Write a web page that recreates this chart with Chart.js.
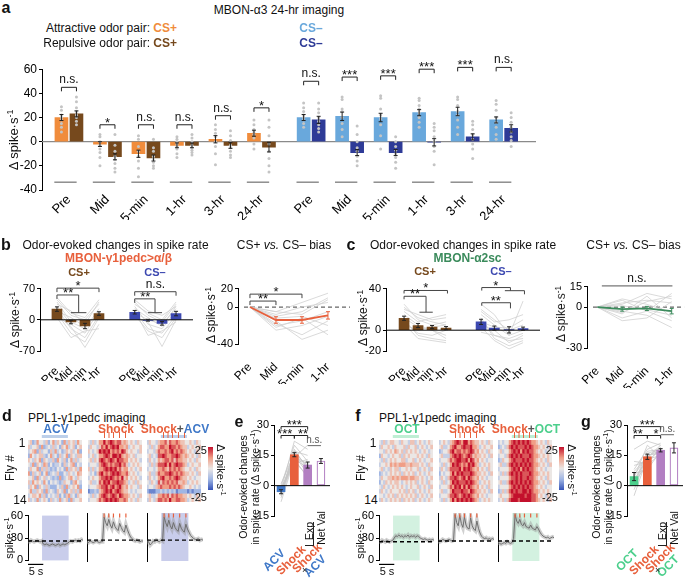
<!DOCTYPE html>
<html>
<head>
<meta charset="utf-8">
<title>MBON / PPL1 imaging</title>
<script src="https://cdn.jsdelivr.net/npm/chart.js@4.4.1/dist/chart.umd.min.js"></script>
<style>
  body { margin: 0; background: #fff; }
  #fig { position: relative; width: 690px; height: 578px; overflow: hidden; font-family: "Liberation Sans", Arial, sans-serif; }
  #fig canvas { position: absolute; }
  .t { position: absolute; white-space: nowrap; line-height: 1; color: #111; }
  .sup { font-size: 0.68em; vertical-align: 0.5em; }
  .ln { position: absolute; background: #222; }
</style>
</head>
<body>
<div id="fig"></div>
<script>
// ---------- panel a: MBON-a3 24-hr imaging ----------
const timepoints = ['Pre', 'Mid', '5-min', '1-hr', '3-hr', '24-hr'];
const attractCSplus = [20, -2, -10, -3, 2, 7];
const repulseCSplus = [23, -12.5, -13.5, -3, -3, -4.5];
const attractCSminus = [20, 21, 20, 24, 25, 18];
const repulseCSminus = [18, -9, -9, -0.5, 4, 11];
const attractCSplusSem = [2.5, 2, 3, 2, 3, 2.5];
const repulseCSplusSem = [2.5, 2.5, 2.5, 2, 2.5, 4];
const attractCSminusSem = [2.5, 3.5, 3.5, 2.5, 3.5, 2.5];
const repulseCSminusSem = [3, 2.5, 2.5, 3, 2.5, 3];
const attractCSplusFlies = [
  [29, 26, 22, 20, 18, 15, 12, 8], [6, 4, 0, -3, -6, -9, -13, -20], [5, 2, -4, -8, -12, -16, -22, -29],
  [4, 2, 0, -2, -4, -6, -10, -13], [14, 10, 7, 4, 0, -4, -10, -19], [18, 14, 10, 8, 6, 3, -2, -6],
];
const repulseCSplusFlies = [
  [37, 33, 28, 25, 22, 20, 17, 14], [6, -3, -8, -12, -15, -18, -22, -25], [2, -5, -8, -12, -14, -17, -20, -22],
  [6, 3, 0, -3, -5, -7, -9, -11], [9, 5, 1, -3, -5, -8, -11, -13], [18, 12, 5, -2, -8, -14, -20, -25],
];
const attractCSminusFlies = [
  [32, 28, 25, 22, 20, 18, 15, 12], [37, 35, 27, 25, 20, 15, 10, 4], [38, 36, 27, 22, 19, 14, 5, -6],
  [36, 34, 30, 27, 24, 20, 16, 12], [37, 35, 30, 25, 22, 18, 12, 6], [34, 31, 26, 20, 16, 12, 6, 2],
];
const repulseCSminusFlies = [
  [32, 27, 24, 20, 17, 14, 11, 8], [13, 6, 0, -5, -8, -12, -16, -20], [4, 0, -4, -7, -10, -13, -17, -22],
  [15, 12, 9, 4, 0, -4, -8, -19], [17, 14, 10, 6, 2, -2, -6, -14], [24, 20, 16, 12, 8, 4, 1, -4],
];
const sigCSplus = ['n.s.', '*', 'n.s.', 'n.s.', 'n.s.', '*'];
const sigCSminus = ['n.s.', '***', '***', '***', '***', 'n.s.'];

// ---------- panel b: MBON-g1pedc>a/b ----------
const stages = ['Pre', 'Mid', '5-min', '1-hr'];
const g1pedcCSplus = [24, -5, -14, 14];
const g1pedcCSplusSem = [5, 4, 6, 4];
const g1pedcCSminus = [17, -1, -8, 14];
const g1pedcCSminusSem = [4, 2, 4, 5];
const g1pedcCSplusFlies = [
  [45, 10, 0, 35], [40, -5, -20, 25], [35, 20, -10, 40], [30, -10, -30, 20], [25, -20, -40, 10],
  [20, 5, -15, 15], [15, -30, -50, 5], [10, -15, -62, -10], [50, 15, 5, 45], [5, -40, -25, -20],
];
const g1pedcCSminusFlies = [
  [40, 10, -5, 35], [30, -10, -20, 20], [25, 5, -15, 30], [20, -20, -30, 10], [15, 0, -10, 25],
  [10, -25, -40, 5], [5, -5, -60, 0], [35, 15, 0, 40], [20, -35, -25, -5], [45, 20, 10, 30],
];
const g1pedcBias = [0, -14, -14, -9];
const g1pedcBiasSem = [0, 3.5, 3.5, 4];
const g1pedcBiasFlies = [
  [0, -5, 5, 15], [0, -10, -5, 10], [0, -20, -15, -5], [0, -15, -35, -25], [0, -25, -20, -10],
  [0, -8, 0, 5], [0, -18, -30, -15], [0, -12, -10, -20], [0, -5, -8, 8], [0, -22, -12, -30],
];

// ---------- panel c: MBON-a2sc ----------
const a2scCSplus = [11.5, 4.5, 3, 2];
const a2scCSplusSem = [2, 2, 1.5, 1.5];
const a2scCSminus = [8, 2, 0.3, 1.5];
const a2scCSminusSem = [2.5, 2, 3, 1.5];
const a2scCSplusFlies = [
  [20, 15, 10, 12], [15, 5, 0, -5], [25, 10, 5, 8], [10, -5, -8, -10], [5, 0, 3, 5],
  [18, 8, 12, 15], [8, -3, -5, 0], [12, 3, 0, -8], [22, 12, 8, 5], [6, -8, -10, -12],
];
const a2scCSminusFlies = [
  [15, 5, -5, 0], [10, -5, -10, -8], [20, 10, 0, 5], [5, 0, -12, -5], [12, -8, -15, -10],
  [8, 3, 2, 10], [25, 15, -5, 28], [3, -10, -18, -12], [18, 8, 10, 15], [-2, -5, -8, -3],
];
const a2scBias = [0, -1.5, -1, -3];
const a2scBiasSem = [0, 1.5, 1.5, 2];
const a2scBiasFlies = [
  [0, 5, -3, 10], [0, -5, 8, -8], [0, 3, 5, 3], [0, -8, -3, -10], [0, 2, 10, 6],
  [0, -3, -6, -15], [0, 6, 2, -4], [0, -10, -8, 4], [0, 1, -2, -6], [0, -4, 4, 8],
];

// ---------- panels d-g: PPL1-g1pedc imaging ----------
const acvBars = [-3, 15.3, 10.2, 12.2];
const acvSem = [1, 1, 1.5, 1.2];
const octBars = [4.5, 14.3, 17.5, 18.7];
const octSem = [2, 1.3, 0.8, 2.5];
// per fly: odor, shock, shock+odor
const acvFlies = [
  [-2, 22, 18], [0, 20, 12], [-5, 18, 8], [-3, 17, 15], [1, 16, 10], [-4, 15, 6], [-6, 14, 11],
  [-2, 14, 20], [-8, 13, 9], [-3, 12, 5], [-1, 11, 13], [-5, 16, 7], [-2, 13, 4], [-4, 17, 9],
];
const octFlies = [
  [18, 22, 20], [10, 12, 18], [5, 15, 17], [2, 10, 16], [-5, 14, 19], [8, 18, 21], [3, 13, 15],
  [0, 16, 18], [6, 8, 17], [4, 20, 14], [12, 11, 19], [-2, 15, 16], [7, 14, 20], [1, 17, 18],
];
// mean traces, spike/s, one sample every 0.5 s from 0 to 18 s
const traceAcv = [26, 25, 27, 26, 25, 26, 27, 26, 25, 26, 22, 21, 22, 21, 20, 21, 22, 21, 20, 21, 22, 20, 21, 22, 21, 22, 23, 25, 26, 25, 26, 27, 26, 27, 26, 28, 27];
const traceShockD = [24, 23, 25, 24, 23, 24, 25, 24, 23, 24, 24, 55, 48, 44, 52, 45, 41, 49, 43, 40, 38, 47, 42, 38, 36, 45, 39, 34, 30, 28, 26, 25, 26, 25, 24, 25, 25];
const traceShockAcv = [26, 24, 20, 22, 25, 24, 26, 25, 24, 26, 25, 55, 48, 43, 51, 44, 40, 48, 42, 39, 37, 47, 41, 38, 36, 46, 40, 36, 32, 30, 28, 27, 27, 28, 26, 27, 26];
const traceOct = [26, 25, 27, 26, 25, 27, 26, 25, 26, 27, 30, 33, 32, 34, 32, 33, 31, 33, 32, 34, 31, 33, 32, 33, 31, 33, 32, 30, 29, 28, 29, 28, 27, 28, 27, 28, 27];
const traceShockF = [26, 24, 25, 27, 26, 25, 26, 27, 26, 25, 26, 58, 48, 44, 57, 47, 42, 55, 45, 41, 40, 54, 44, 40, 38, 50, 41, 35, 31, 29, 28, 29, 27, 28, 27, 28, 27];
const traceShockOct = [24, 22, 21, 22, 23, 22, 24, 23, 22, 23, 28, 58, 50, 47, 52, 46, 44, 48, 43, 42, 41, 45, 41, 40, 39, 43, 40, 36, 33, 31, 30, 29, 30, 28, 29, 30, 29];
const shockTimes = [5.5, 7, 8.5, 10.5, 12.5];
// heat maps: 14 flies x 24 bins, digit 1..9 = -25..+25 spike/s
const heatAcv = [
  '563475546357465374656475', '645563734546453657456356', '456736455364745346564573', '375456643574536457365466',
  '654657365446375463574645', '547365476353445364567354', '465573646434354537465647', '736456357345463354654576',
  '556374564543437345675465', '647565475354543465536754', '465736546433354637456573', '574465637454365473564647',
  '456657463545463536745365', '645474565364547456374556',
];
const heatShockD = [
  '546457797898788676565465', '465546879789897767456556', '654569898978787986565546', '456457789879989767656455',
  '564658987898798877565654', '455547898787889786456565', '646457789898978677565456', '545368978789898778656545',
  '456557889898787967565654', '564458798978898876456465', '455567889789789767565546', '233436789897898766545455',
  '546457898789879877656546', '455568789898987787565465',
];
const heatShockAcv = [
  '465546778687787665565465', '546457887798878766456556', '455468778789787876565465', '564548898778898767656546',
  '465457678878687766565465', '546468889797898876456556', '455457787687878765565465', '564468778898787876656546',
  '465457897787898766565455', '546548687878786676456565', '455467877787878765565454', '322233434343423333232333',
  '564457787868787766565465', '465468878797788776456556',
];
const heatOct = [
  '546456655465546645654565', '465565465556465564565456', '554656576564656565456545', '365545655646565556565465',
  '546456565566455645654556', '455657676777667666565465', '564546566455656556456546', '345456565646565645654565',
  '465566767677767766565456', '354656566545656564565465', '546545656565456556456546', '465456555656465645654565',
  '554565646565656564565456', '465456565646565645654565',
];
const heatShockF = [
  '456546789879978766565465', '564457897789889776456556', '345568978878789867565465', '564447898987898676656546',
  '455568789988979867565455', '546457989878798976456565', '465468888979898767565465', '354557979898889876656546',
  '465468898789798767565455', '546457989888989876456565', '455568798979798767565465', '564457988898879876656546',
  '455568898789898767565455', '546457979898989876456565',
];
const heatShockOct = [
  '454557898989898776565465', '345468989888989877656546', '564557898979898876565455', '455468989898889877656565',
  '346557898889898876565465', '564468989898989877656546', '455557898979898876565455', '546468989898889877656565',
  '455557889898898876565465', '564468989898989877656546', '455557898989898876565455', '346468989889989877656565',
  '565557899999899887565465', '456468999899999887656546',
];

// ---------- style ----------
const ORANGE = '#f08c3c', BROWN = '#76491d', LBLUE = '#69a8dc', DBLUE = '#2e3b97';
const RED = '#e8603c', BLUE2 = '#3c48b0', GREEN = '#3b8b5c', ACVC = '#3f78c8', OCTC = '#4ccf8c', PURPLE = '#b27fc2';
const SUP = '<span class="sup">-1</span>';
const TSTEP = 0.5, CELL_T = 0.75, ODOR_WIN = [4.6, 13.3];

Chart.defaults.font.family = '"Liberation Sans", Arial, sans-serif';
Chart.defaults.color = '#000';
Chart.defaults.animation = false;
Chart.defaults.responsive = false;
Chart.defaults.events = [];
Chart.defaults.plugins.legend.display = false;
Chart.defaults.plugins.tooltip.enabled = false;
Chart.defaults.elements.point.radius = 0;

const fig = document.getElementById('fig');

function txt(x, y, s, o = {}) {
  const d = document.createElement('div');
  d.className = 't';
  d.innerHTML = s;
  const ax = o.a === 'l' ? '0' : o.a === 'r' ? '-100%' : '-50%';
  d.style.left = x + 'px';
  d.style.top = y + 'px';
  d.style.fontSize = (o.size || 12) + 'px';
  if (o.color) d.style.color = o.color;
  if (o.bold) d.style.fontWeight = 'bold';
  d.style.transform = `translate(${ax},-50%)` + (o.rot ? ` rotate(${o.rot}deg)` : '');
  fig.appendChild(d);
}
function box(x, y, w, h, bg) {
  const d = document.createElement('div');
  d.className = 'ln';
  d.style.cssText = `left:${x}px;top:${y}px;width:${w}px;height:${h}px;` + (bg ? `background:${bg};` : '');
  fig.appendChild(d);
}

let plugSeq = 0;
function draw(ch, fn) {
  if (!fn) return;
  const ctx = ch.ctx;
  ctx.save();
  fn({ ctx, X: v => ch.scales.x.getPixelForValue(v), Y: v => ch.scales.y.getPixelForValue(v), area: ch.chartArea });
  ctx.restore();
}
function mk(left, top, w, h, cfg, pad, before, after) {
  const c = document.createElement('canvas');
  c.width = w;
  c.height = h;
  c.style.left = left + 'px';
  c.style.top = top + 'px';
  fig.appendChild(c);
  cfg.options.layout = { padding: Object.assign({ top: 0, right: 0, bottom: 0, left: 0 }, pad), autoPadding: false };
  cfg.options.maintainAspectRatio = false;
  cfg.options.devicePixelRatio = 1;
  cfg.plugins = [{ id: 'deco' + (plugSeq++), beforeDatasetsDraw: ch => draw(ch, before), afterDatasetsDraw: ch => draw(ch, after) }];
  const chart = new Chart(c, cfg);
  chart.$left = left;
  chart.$top = top;
  return chart;
}
function yAx(min, max, ticks, w, o = {}) {
  const tl = o.tl === undefined ? 3 : o.tl;
  return {
    type: 'linear', min, max,
    afterFit: s => { s.width = w; },
    afterBuildTicks: s => { s.ticks = ticks.map(v => ({ value: v })); },
    border: { display: true, color: '#000', width: 1 },
    grid: { drawOnChartArea: false, drawTicks: tl > 0, tickLength: tl, color: '#000' },
    ticks: { display: o.labels !== false, color: '#000', font: { size: o.fs || 12 }, padding: 2 },
  };
}
function xAx(min, max, pos, labels, o = {}) {
  return {
    type: 'linear', min, max, offset: false, display: !!labels,
    afterFit: s => { s.height = o.h || 30; },
    afterBuildTicks: s => { s.ticks = pos.map(v => ({ value: v })); },
    border: { display: false }, grid: { display: false },
    ticks: {
      autoSkip: false, minRotation: 45, maxRotation: 45, padding: o.pad === undefined ? 2 : o.pad,
      color: '#000', font: { size: o.fs || 12 }, callback: (v, i) => (labels ? labels[i] : ''),
    },
  };
}
function seg(ctx, pts, color = '#000', w = 1, dash = []) {
  ctx.beginPath();
  ctx.strokeStyle = color;
  ctx.lineWidth = w;
  ctx.setLineDash(dash);
  pts.forEach(([x, y], i) => (i ? ctx.lineTo(x, y) : ctx.moveTo(x, y)));
  ctx.stroke();
}
function errBars(g, xs, ys, es, color = '#222', cap = 2) {
  xs.forEach((x, i) => {
    if (!es[i]) return;
    const px = g.X(x), y1 = g.Y(ys[i] - es[i]), y2 = g.Y(ys[i] + es[i]);
    seg(g.ctx, [[px, y1], [px, y2]], color, 1);
    seg(g.ctx, [[px - cap, y1], [px + cap, y1]], color, 1);
    seg(g.ctx, [[px - cap, y2], [px + cap, y2]], color, 1);
  });
}
function bracket(g, x1, x2, y, drop = 4, color = '#222') {
  const py = g.Y(y);
  seg(g.ctx, [[g.X(x1), py + drop], [g.X(x1), py], [g.X(x2), py], [g.X(x2), py + drop]], color, 1);
}
function note(ch, x, y, s, o = {}) {
  txt(ch.$left + ch.scales.x.getPixelForValue(x) + (o.dx || 0), ch.$top + ch.scales.y.getPixelForValue(y) + (o.dy || 0), s, o);
}
function sig(ch, x, y, s, o = {}) {
  const star = s.indexOf('*') >= 0;
  note(ch, x, y, s, Object.assign({ dy: star ? -3 : -8, size: star ? 13 : 12 }, o));
}
function barSet(vals, pos, color, thick, off = 0) {
  return { data: vals.map((y, i) => ({ x: pos[i] + off, y })), backgroundColor: color, barThickness: thick, grouped: false, order: 1 };
}
function flyLine(vals, pos, color = '#d0d0d0') {
  return { type: 'line', data: vals.map((y, i) => ({ x: pos[i], y })), borderColor: color, borderWidth: 0.8, pointRadius: 0, order: 3, clip: false };
}
function meanLine(vals, pos, color) {
  return { type: 'line', data: vals.map((y, i) => ({ x: pos[i], y })), borderColor: color, borderWidth: 1.8, pointRadius: 0, order: 0, clip: false };
}

// ================= panel a =================
const aPlusPos = [0, 1, 2, 3, 4, 5];
const aMinusPos = [6.29, 7.29, 8.29, 9.29, 10.29, 11.29];
const aOff = 0.195;
const aSeries = [
  [attractCSplus, attractCSplusSem, attractCSplusFlies, aPlusPos, -aOff, ORANGE],
  [repulseCSplus, repulseCSplusSem, repulseCSplusFlies, aPlusPos, aOff, BROWN],
  [attractCSminus, attractCSminusSem, attractCSminusFlies, aMinusPos, -aOff, LBLUE],
  [repulseCSminus, repulseCSminusSem, repulseCSminusFlies, aMinusPos, aOff, DBLUE],
];
const aDots = [];
aSeries.forEach(([, , flies, pos, off]) => flies.forEach((vals, i) => vals.forEach(v => aDots.push({ x: pos[i] + off, y: v }))));
const plusH = [45, 14, 14, 14, 21.5, 28];
const minusH = [50, 53.5, 54.5, 60, 61.5, 61.5];

const chA = mk(0, 60, 545, 160, {
  type: 'bar',
  data: {
    datasets: [
      ...aSeries.map(([v, , , pos, off, c]) => Object.assign(barSet(v, pos, c, 13, off), { order: 2 })),
      { type: 'line', showLine: false, data: aDots, pointRadius: 1.5, pointBackgroundColor: '#c4c4c4', pointBorderWidth: 0, order: 1, clip: false },
    ],
  },
  options: { scales: { x: xAx(-0.70, 12.13, [...aPlusPos, ...aMinusPos], [...timepoints, ...timepoints], { h: 30, fs: 13, pad: -6 }), y: yAx(-40, 60, [-40, -20, 0, 20, 40, 60], 42) } },
}, { top: 9, right: 9 },
g => seg(g.ctx, [[g.area.left, g.Y(0)], [g.area.right, g.Y(0)]], '#8a8a8a', 1.2),
g => {
  aSeries.forEach(([v, e, , pos, off]) => errBars(g, pos.map(x => x + off), v, e, '#222', 2));
  [...aPlusPos, ...aMinusPos].forEach(x => seg(g.ctx, [[g.X(x - 0.38), g.Y(-33.5)], [g.X(x + 0.2), g.Y(-33.5)]], '#555', 1));
  aPlusPos.forEach((x, i) => bracket(g, x - aOff, x + aOff, plusH[i]));
  aMinusPos.forEach((x, i) => bracket(g, x - aOff, x + aOff, minusH[i]));
});
aPlusPos.forEach((x, i) => sig(chA, x, plusH[i], sigCSplus[i]));
aMinusPos.forEach((x, i) => sig(chA, x, minusH[i], sigCSminus[i]));

txt(6, 8, 'a', { size: 16, bold: true });
txt(279, 10, 'MBON-α3 24-hr imaging', { size: 12 });
txt(177, 28, `Attractive odor pair: <b style="color:${ORANGE}">CS+</b>`, { a: 'r', size: 12 });
txt(177, 43, `Repulsive odor pair: <b style="color:${BROWN}">CS+</b>`, { a: 'r', size: 12 });
txt(311, 28, 'CS–', { size: 12, bold: true, color: LBLUE });
txt(311, 43, 'CS–', { size: 12, bold: true, color: DBLUE });
txt(13, 140, `Δ spike·s${SUP}`, { size: 13, rot: -90 });

// ================= panel b =================
const bPos = [0, 1, 2, 3];
const bPosM = [5.55, 6.5, 7.5, 8.5];
const chB1 = mk(8, 280, 187, 101, {
  type: 'bar',
  data: {
    datasets: [
      barSet(g1pedcCSplus, bPos, BROWN, 10),
      barSet(g1pedcCSminus, bPosM, BLUE2, 10),
      ...g1pedcCSplusFlies.map(f => flyLine(f, bPos)),
      ...g1pedcCSminusFlies.map(f => flyLine(f, bPosM)),
    ],
  },
  options: { scales: { x: xAx(-1.21, 9.71, [...bPos, ...bPosM], [...stages, ...stages], { h: 30, pad: 5 }), y: yAx(-70, 70, [-70, 0, 70], 32, { fs: 11 }) } },
}, { top: 6, right: 2 }, null, g => {
  seg(g.ctx, [[g.area.left, g.Y(0)], [g.area.right, g.Y(0)]], '#000', 1);
  errBars(g, bPos, g1pedcCSplus, g1pedcCSplusSem);
  errBars(g, bPosM, g1pedcCSminus, g1pedcCSminusSem);
  bracket(g, 0, 3, 71, 4, '#444');
  seg(g.ctx, [[g.X(0), g.Y(55.7) + 4], [g.X(0), g.Y(55.7)], [g.X(1.55), g.Y(55.7)], [g.X(1.55), g.Y(16)]], '#444');
  seg(g.ctx, [[g.X(1), g.Y(16)], [g.X(2.1), g.Y(16)]], '#444');
  bracket(g, 5.55, 8.5, 63, 4, '#444');
  seg(g.ctx, [[g.X(5.55), g.Y(47) + 4], [g.X(5.55), g.Y(47)], [g.X(7), g.Y(47)], [g.X(7), g.Y(16)]], '#444');
  seg(g.ctx, [[g.X(6.5), g.Y(16)], [g.X(7.5), g.Y(16)]], '#444');
});
sig(chB1, 1.5, 71, '*');
sig(chB1, 0.8, 55.7, '**');
sig(chB1, 7.02, 63, 'n.s.');
sig(chB1, 6.3, 47, '**');

const chB2 = mk(208, 280, 142, 104, {
  type: 'line',
  data: { datasets: [...g1pedcBiasFlies.map(f => flyLine(f, bPos)), meanLine(g1pedcBias, bPos, RED)] },
  options: { scales: { x: xAx(-0.46, 3.77, bPos, stages, { h: 40, pad: 8 }), y: yAx(-40, 20, [-40, 0, 20], 30, { fs: 11 }) } },
}, { top: 6, right: 2 },
g => seg(g.ctx, [[g.area.left + 6, g.Y(0)], [g.area.right + 2, g.Y(0)]], '#666', 1.3, [4, 3]),
g => {
  errBars(g, bPos, g1pedcBias, g1pedcBiasSem, RED, 2);
  bracket(g, 0, 1, 6.5, 4, '#444');
  bracket(g, 0, 2, 14, 4, '#444');
});
sig(chB2, 0.5, 6.5, '**');
sig(chB2, 1, 14, '*');

txt(6, 245, 'b', { size: 16, bold: true });
txt(115.5, 245, 'Odor-evoked changes in spike rate', { size: 12 });
txt(118.5, 258.3, 'MBON-γ1pedc&gt;α/β', { size: 12, bold: true, color: RED });
txt(79, 271.7, 'CS+', { size: 11, bold: true, color: BROWN });
txt(155, 271.7, 'CS–', { size: 11, bold: true, color: BLUE2 });
txt(284, 245, 'CS+ <i>vs.</i> CS– bias', { size: 12 });
txt(15, 320, `Δ spike·s${SUP}`, { size: 12, rot: -90 });
txt(211, 315, `Δ spike·s${SUP}`, { size: 12, rot: -90 });

// ================= panel c =================
const cPosM = [5.5, 6.45, 7.5, 8.5];
const chC1 = mk(356, 280, 186, 101, {
  type: 'bar',
  data: {
    datasets: [
      barSet(a2scCSplus, bPos, BROWN, 10),
      barSet(a2scCSminus, cPosM, BLUE2, 10),
      ...a2scCSplusFlies.map(f => flyLine(f, bPos)),
      ...a2scCSminusFlies.map(f => flyLine(f, cPosM)),
    ],
  },
  options: { scales: { x: xAx(-1.29, 9.71, [...bPos, ...cPosM], [...stages, ...stages], { h: 30, pad: 5 }), y: yAx(-20, 40, [-20, 0, 40], 30, { fs: 11 }) } },
}, { top: 6, right: 2 }, null, g => {
  seg(g.ctx, [[g.area.left, g.Y(0)], [g.area.right, g.Y(0)]], '#000', 1);
  errBars(g, bPos, a2scCSplus, a2scCSplusSem);
  errBars(g, cPosM, a2scCSminus, a2scCSminusSem);
  bracket(g, 0, 3.1, 38.2, 3, '#444');
  seg(g.ctx, [[g.X(0), g.Y(32.6) + 3], [g.X(0), g.Y(32.6)], [g.X(1.57), g.Y(32.6)], [g.X(1.57), g.Y(17.3)]], '#444');
  seg(g.ctx, [[g.X(1.1), g.Y(17.3)], [g.X(2.05), g.Y(17.3)]], '#444');
  seg(g.ctx, [[g.X(5.55), g.Y(41) + 3], [g.X(5.55), g.Y(41)], [g.X(7.6), g.Y(41)], [g.X(7.6), g.Y(38)]], '#444');
  seg(g.ctx, [[g.X(7.2), g.Y(38)], [g.X(8.6), g.Y(38)], [g.X(8.6), g.Y(34.5)]], '#444');
  seg(g.ctx, [[g.X(5.55), g.Y(26.4) + 3], [g.X(5.55), g.Y(26.4)], [g.X(7.6), g.Y(26.4)], [g.X(7.6), g.Y(21)]], '#444');
});
sig(chC1, 1.55, 38.2, '*');
sig(chC1, 0.78, 32.6, '**');
sig(chC1, 6.55, 41, '*');
sig(chC1, 6.55, 26.4, '**');

const chC2 = mk(557, 278, 133, 110, {
  type: 'line',
  data: { datasets: [...a2scBiasFlies.map(f => flyLine(f, bPos)), meanLine(a2scBias, bPos, GREEN)] },
  options: { scales: { x: xAx(-0.42, 3.5, bPos, stages, { h: 40, pad: 8 }), y: yAx(-30, 15, [-30, 0, 15], 30, { fs: 11 }) } },
}, { top: 6, right: 1 },
g => seg(g.ctx, [[g.area.left + 6, g.Y(0)], [g.area.right, g.Y(0)]], '#666', 1.3, [4, 3]),
g => {
  errBars(g, bPos, a2scBias, a2scBiasSem, GREEN, 2);
  seg(g.ctx, [[g.X(0.18), g.Y(15.5)], [g.X(3.03), g.Y(15.5)]], '#555', 1);
});
sig(chC2, 1.6, 15.5, 'n.s.');

txt(351, 245, 'c', { size: 16, bold: true });
txt(463, 245, 'Odor-evoked changes in spike rate', { size: 12 });
txt(467.5, 258.3, 'MBON-α2sc', { size: 12, bold: true, color: GREEN });
txt(425, 271, 'CS+', { size: 11, bold: true, color: BROWN });
txt(501, 271, 'CS–', { size: 11, bold: true, color: BLUE2 });
txt(633.5, 245, 'CS+ <i>vs.</i> CS– bias', { size: 12 });
txt(363, 318, `Δ spike·s${SUP}`, { size: 12, rot: -90 });
txt(561, 314, `Δ spike·s${SUP}`, { size: 12, rot: -90 });

// ================= panels d / f: heat maps and traces =================
const HEAT_STOPS = [[0, [53, 83, 184]], [0.25, [160, 182, 228]], [0.5, [235, 231, 229]], [0.75, [240, 158, 134]], [1, [195, 16, 44]]];
function heat(v) {
  const t = Math.max(0, Math.min(1, (v + 25) / 50));
  for (let i = 1; i < HEAT_STOPS.length; i++) {
    const [t0, c0] = HEAT_STOPS[i - 1];
    const [t1, c1] = HEAT_STOPS[i];
    if (t <= t1) {
      const f = (t - t0) / (t1 - t0);
      return `rgb(${c0.map((c, k) => Math.round(c + (c1[k] - c) * f)).join(',')})`;
    }
  }
  return 'rgb(195,16,44)';
}
const level = ch => (Number(ch) - 5) * 6.25;

function heatChart(left, rows, o) {
  return mk(left, 430, 54, 72, {
    type: 'bar',
    data: {
      datasets: rows.map((row, r) => ({
        data: row.split('').map((ch, c) => ({ x: (c + 0.5) * CELL_T, y: [r, r + 1] })),
        backgroundColor: row.split('').map(ch => heat(level(ch))),
        barThickness: 2.6, grouped: false, borderWidth: 0,
      })),
    },
    options: {
      scales: {
        x: { type: 'linear', min: 0, max: 18, display: false, offset: false },
        y: { type: 'linear', min: 0, max: 14, reverse: true, display: false },
      },
    },
  }, { top: 10 }, null, g => {
    if (o.odor) {
      g.ctx.fillStyle = o.odor;
      g.ctx.fillRect(g.X(ODOR_WIN[0]), g.area.top - 5, g.X(ODOR_WIN[1]) - g.X(ODOR_WIN[0]), 3);
    }
    if (o.shock) shockTimes.forEach(t => seg(g.ctx, [[g.X(t), g.area.top - 8], [g.X(t), g.area.top - 2]], RED, 1));
  });
}
function traceChart(left, axisW, width, series, base, o) {
  const pts = series.map((y, i) => ({ x: i * TSTEP, y }));
  return mk(left, 507, width, 62, {
    type: 'line',
    data: {
      datasets: [
        { data: pts, borderColor: 'rgba(150,150,150,0.45)', borderWidth: 4, order: 2 },
        { data: pts, borderColor: '#6e6e6e', borderWidth: 1, order: 1 },
      ],
    },
    options: {
      scales: {
        x: { type: 'linear', min: 0, max: 18, display: false },
        y: yAx(0, 60, [0, 30, 60], axisW, { labels: !!o.labels, tl: o.labels ? 3 : 0, fs: 11 }),
      },
    },
  }, { top: 6, bottom: 8 },
  g => {
    if (o.odor) {
      g.ctx.fillStyle = o.odor;
      g.ctx.fillRect(g.X(ODOR_WIN[0]), g.area.top, g.X(ODOR_WIN[1]) - g.X(ODOR_WIN[0]), g.area.bottom - g.area.top);
    }
  },
  g => {
    seg(g.ctx, [[g.area.left, g.Y(base)], [g.area.right, g.Y(base)]], '#000', 1.3, [4, 3]);
    if (o.shock) shockTimes.forEach(t => seg(g.ctx, [[g.X(t), g.area.top + 0.5], [g.X(t), g.area.top + 4.5]], RED, 1.2));
    if (o.labels) seg(g.ctx, [[g.X(0), g.area.bottom + 4], [g.X(5), g.area.bottom + 4]], '#000', 1.2);
  });
}

function imagingPanel(dx, odorName, odorColor, odorFill, odorBar, heats, traces, base, letter) {
  heatChart(28 + dx, heats[0], { odor: odorBar });
  heatChart(88 + dx, heats[1], { shock: true });
  heatChart(147 + dx, heats[2], { odor: odorBar, shock: true });
  traceChart(10 + dx, 18, 73, traces[0], base, { labels: true, odor: odorFill });
  traceChart(85 + dx, 2, 58, traces[1], base, { shock: true });
  traceChart(145 + dx, 2, 58, traces[2], base, { odor: odorFill, shock: true });

  txt(7 + dx, 416, letter, { size: 16, bold: true });
  txt(28 + dx, 418, 'PPL1-γ1pedc imaging', { a: 'l', size: 12 });
  txt(56 + dx, 429, odorName, { size: 12, bold: true, color: odorColor });
  txt(116 + dx, 429, 'Shock', { size: 12, bold: true, color: RED });
  txt(175 + dx, 429, `<span style="color:${RED}">Shock</span>+<span style="color:${odorColor}">${odorName}</span>`, { size: 12, bold: true, color: '#555' });
  txt(22 + dx, 443, '1', { size: 12 });
  txt(20 + dx, 500, '14', { size: 12 });
  txt(10 + dx, 468, 'Fly #', { size: 12, rot: -90 });
  const grad = HEAT_STOPS.slice().reverse().map(([t, c]) => `rgb(${c.join(',')}) ${Math.round((1 - t) * 100)}%`).join(',');
  box(208 + dx, 447, 5, 43, `linear-gradient(to bottom, ${grad})`);
  txt(207 + dx, 450, '25', { a: 'r', size: 11 });
  txt(207 + dx, 497, '-25', { a: 'r', size: 11 });
  txt(221 + dx, 470, `Δ spike·s${SUP}`, { size: 11, rot: 90 });
  txt(9 + dx, 538, `spike·s${SUP}`, { size: 11, rot: -90 });
  txt(36 + dx, 571, '5 s', { size: 11 });
}
imagingPanel(0, 'ACV', ACVC, '#c9cdeb', '#bdd0ea', [heatAcv, heatShockD, heatShockAcv], [traceAcv, traceShockD, traceShockAcv], 26, 'd');
imagingPanel(351, 'OCT', OCTC, '#d3f1e0', '#bfeed4', [heatOct, heatShockF, heatShockOct], [traceOct, traceShockF, traceShockOct], 25, 'f');

// ================= panels e / g: bar summaries =================
const ePos = [0, 1, 2, 3];
function summaryPanel(left, axisX, vals, sem, flies, odorColor, odorName, sigs, nsY, letter, lx) {
  const ch = mk(left, 415, 90, 133, {
    type: 'bar',
    data: {
      datasets: [
        {
          data: vals.map((y, i) => ({ x: ePos[i], y })), grouped: false, order: 1, barThickness: 8, borderSkipped: false,
          backgroundColor: [odorColor, RED, PURPLE, '#fff'], borderColor: [odorColor, RED, PURPLE, PURPLE], borderWidth: [0, 0, 0, 1.2],
        },
        ...flies.map(f => flyLine(f, [0, 1, 2], '#c8c8c8')),
      ],
    },
    options: { scales: { x: xAx(-0.53, 3.68, ePos, null), y: yAx(-15, 30, [-15, 0, 15, 30], axisX - left, { fs: 11 }) } },
  }, { top: 10, bottom: 2, right: 4 }, null, g => {
    seg(g.ctx, [[g.area.left, g.Y(0)], [g.area.right, g.Y(0)]], '#000', 1);
    errBars(g, ePos, vals, sem, '#222', 2);
    bracket(g, 0, 2, 29.2, 3);
    bracket(g, 0, 1, 24.8, 3);
    bracket(g, 1, 2, 24.8, 3);
    seg(g.ctx, [[g.X(2), g.Y(nsY)], [g.X(3), g.Y(nsY)]], '#666', 1);
  });
  sig(ch, 1, 29.2, sigs[0]);
  sig(ch, 0.5, 24.8, sigs[1], { dx: -3 });
  sig(ch, 1.5, 24.8, sigs[2], { dx: 2 });
  sig(ch, 2.5, nsY, 'n.s.', { size: 10, color: '#555', dy: -6 });

  txt(lx, 422, letter, { size: 16, bold: true });
  txt(axisX - 31, 487, 'Odor-evoked changes', { size: 10.5, rot: -90 });
  txt(axisX - 19, 487, `in spike rate (Δ spike·s${SUP})`, { size: 10.5, rot: -90 });
  const px = i => left + ch.scales.x.getPixelForValue(i);
  txt(px(0) - 7, 560, odorName, { size: 12, bold: true, color: odorColor, rot: -45 });
  txt(px(1) - 3, 560, 'Shock', { size: 12, bold: true, color: RED, rot: -45 });
  txt(px(2) - 1, 558, 'Shock', { size: 12, bold: true, color: RED, rot: -45 });
  txt(px(2) + 7, 566, odorName, { size: 12, bold: true, color: odorColor, rot: -45 });
  txt(px(2) - 3, 570, '×', { size: 9 });
  txt(px(2) + 1, 531, 'Exp', { size: 10.5, rot: -90 });
  txt(px(3), 528, 'Net Val', { size: 10.5, rot: -90 });
  box(px(2) + 5.5, 522, 1, 24);
  box(px(2) - 3, 545, 9, 1);
  return ch;
}
summaryPanel(244, 274, acvBars, acvSem, acvFlies, ACVC, 'ACV', ['***', '***', '**'], 19.8, 'e', 239);
summaryPanel(597, 627, octBars, octSem, octFlies, OCTC, 'OCT', ['***', '**', '*'], 25.2, 'g', 586);
</script>
</body>
</html>
